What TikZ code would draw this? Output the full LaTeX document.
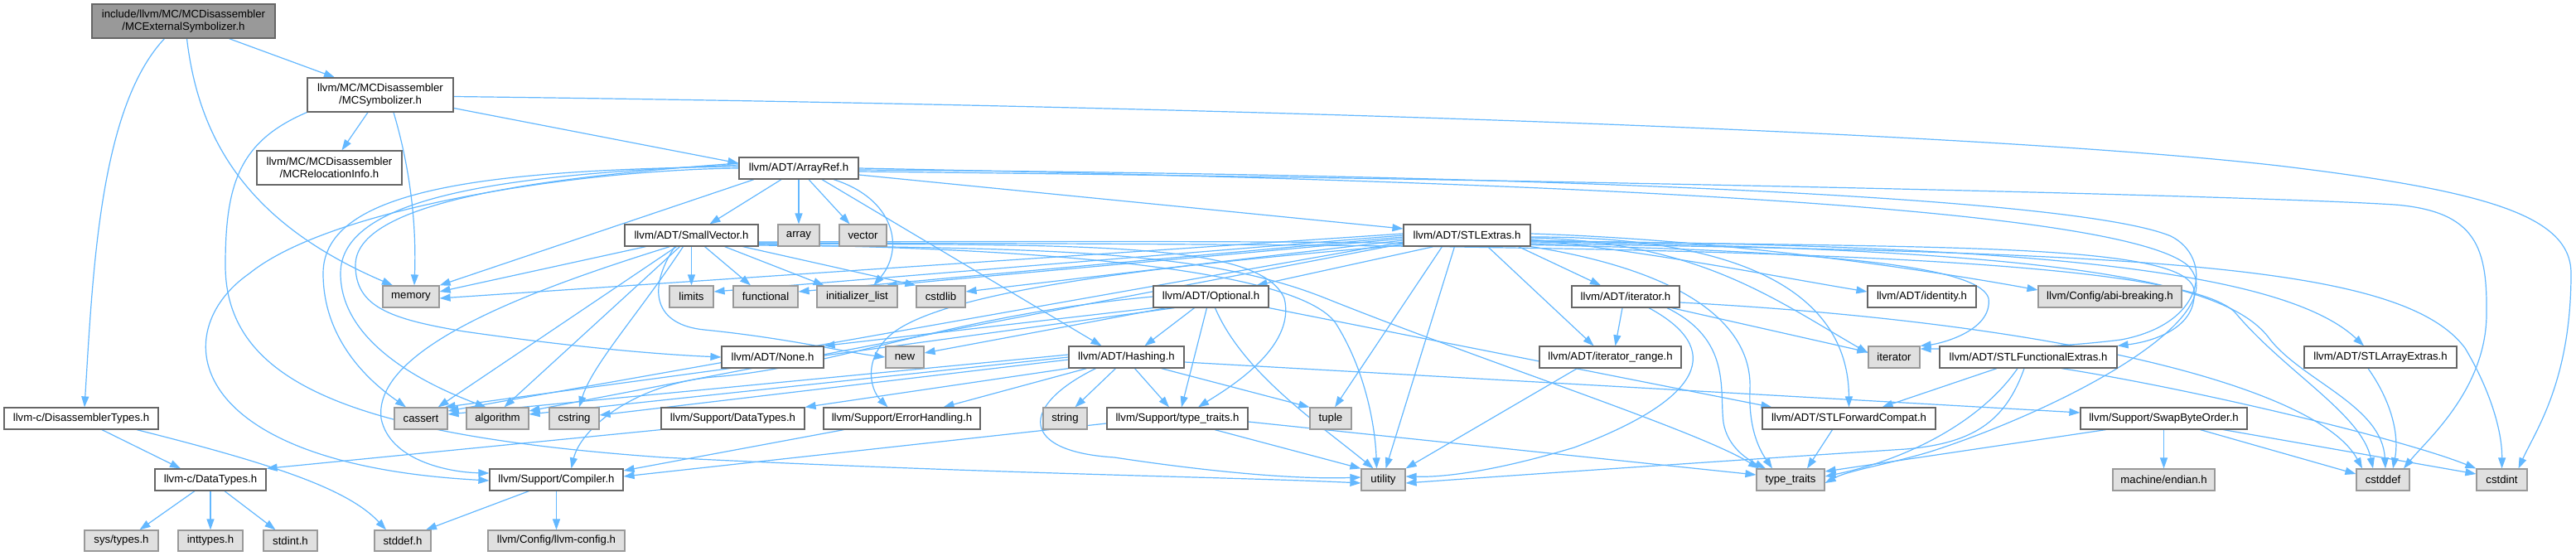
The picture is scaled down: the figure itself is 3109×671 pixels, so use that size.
\documentclass[tikz,border=0pt]{standalone}
\usepackage{fontspec}
\setmainfont{Liberation Sans}
\usetikzlibrary{arrows.meta}
\definecolor{edgec}{HTML}{63B8FF}
\definecolor{bordc}{HTML}{666666}
\definecolor{extbord}{HTML}{999999}
\definecolor{extfill}{HTML}{E0E0E0}
\definecolor{rootfill}{HTML}{999999}
\newcommand\dxfont{\fontsize{13.2}{15}\selectfont}
\pgfdeclarelayer{bglayer}
\pgfsetlayers{bglayer,main}
\begin{document}
\begin{tikzpicture}[x=1pt,y=-1pt,
  hbox/.style={draw=bordc,fill=white,line width=1.2pt,minimum height=26pt,inner xsep=2pt,inner ysep=0pt,font=\dxfont,align=center},
  hbox2/.style={hbox,minimum height=41pt},
  xbox/.style={hbox,draw=extbord,fill=extfill},
  rbox/.style={hbox2,fill=rootfill},
  dep/.style={draw=edgec,line width=1.2pt,-{Triangle[length=13pt,width=9pt]}}]
\useasboundingbox (0,0) rectangle (3109,671);
% nodes
\node[rbox, minimum width=221pt] (root) at (221.5,25.5) {include/llvm/MC/MCDisassembler\\/MCExternalSymbolizer.h};
\node[hbox2, minimum width=176pt] (mcsym) at (459,114.5) {llvm/MC/MCDisassembler\\/MCSymbolizer.h};
\node[hbox2, minimum width=175pt] (mcreloc) at (397.5,202.5) {llvm/MC/MCDisassembler\\/MCRelocationInfo.h};
\node[hbox, minimum width=144pt] (arrayref) at (964,203) {llvm/ADT/ArrayRef.h};
\node[hbox, minimum width=161pt] (smallvec) at (834.5,284) {llvm/ADT/SmallVector.h};
\node[xbox, minimum width=50pt] (array) at (964,284) {array};
\node[xbox, minimum width=57pt] (vector) at (1041.5,284) {vector};
\node[hbox, minimum width=153pt] (stlextras) at (1770.5,284) {llvm/ADT/STLExtras.h};
\node[xbox, minimum width=68pt] (memory) at (496,358) {memory};
\node[xbox, minimum width=53pt] (limits) at (834.5,358) {limits};
\node[xbox, minimum width=78pt] (functional) at (924,358) {functional};
\node[xbox, minimum width=97pt] (initlist) at (1034.5,358) {initializer\_list};
\node[xbox, minimum width=59pt] (cstdlib) at (1135.5,358) {cstdlib};
\node[hbox, minimum width=139pt] (optional) at (1461.5,358) {llvm/ADT/Optional.h};
\node[hbox, minimum width=130pt] (iteratorh) at (1962,358) {llvm/ADT/iterator.h};
\node[hbox, minimum width=131pt] (identity) at (2319.5,358) {llvm/ADT/identity.h};
\node[xbox, minimum width=173pt] (abibreak) at (2546.5,358) {llvm/Config/abi-breaking.h};
\node[hbox, minimum width=123pt] (noneh) at (932.5,431) {llvm/ADT/None.h};
\node[xbox, minimum width=46pt] (newh) at (1092,431) {new};
\node[hbox, minimum width=139pt] (hashing) at (1359.5,431) {llvm/ADT/Hashing.h};
\node[hbox, minimum width=171pt] (iterrange) at (1943.5,431) {llvm/ADT/iterator\_range.h};
\node[xbox, minimum width=62pt] (iterator) at (2286,431) {iterator};
\node[hbox, minimum width=214pt] (stlfunc) at (2448,431) {llvm/ADT/STLFunctionalExtras.h};
\node[hbox, minimum width=184pt] (stlarray) at (2873,431) {llvm/ADT/STLArrayExtras.h};
\node[hbox, minimum width=186pt] (disasm) at (98,505) {llvm-c/DisassemblerTypes.h};
\node[xbox, minimum width=64pt] (cassert) at (508,505) {cassert};
\node[xbox, minimum width=75pt] (algorithm) at (600.5,505) {algorithm};
\node[xbox, minimum width=60pt] (cstring) at (693,505) {cstring};
\node[hbox, minimum width=173pt] (suppdt) at (884.5,505) {llvm/Support/DataTypes.h};
\node[hbox, minimum width=189pt] (errh) at (1088.5,505) {llvm/Support/ErrorHandling.h};
\node[xbox, minimum width=53pt] (stringh) at (1285.5,505) {string};
\node[hbox, minimum width=170pt] (ttraitsh) at (1421,505) {llvm/Support/type\_traits.h};
\node[xbox, minimum width=50pt] (tuple) at (1606,505) {tuple};
\node[hbox, minimum width=209pt] (stlfwd) at (2231.5,505) {llvm/ADT/STLForwardCompat.h};
\node[hbox, minimum width=201pt] (swapbyte) at (2611.5,505) {llvm/Support/SwapByteOrder.h};
\node[hbox, minimum width=134pt] (cdt) at (254,579) {llvm-c/DataTypes.h};
\node[hbox, minimum width=161pt] (compiler) at (671.5,579) {llvm/Support/Compiler.h};
\node[xbox, minimum width=53pt] (utility) at (1669.5,579) {utility};
\node[xbox, minimum width=82pt] (ttraits) at (2161,579) {type\_traits};
\node[xbox, minimum width=123pt] (endian) at (2611.5,579) {machine/endian.h};
\node[xbox, minimum width=64pt] (cstddef) at (2876,579) {cstddef};
\node[xbox, minimum width=61pt] (cstdint) at (3019.5,579) {cstdint};
\node[xbox, minimum width=89pt, minimum height=25pt] (systypes) at (146.5,652.5) {sys/types.h};
\node[xbox, minimum width=78pt, minimum height=25pt] (inttypes) at (254,652.5) {inttypes.h};
\node[xbox, minimum width=65pt, minimum height=25pt] (stdint) at (350.5,652.5) {stdint.h};
\node[xbox, minimum width=68pt, minimum height=25pt] (stddef) at (486,652.5) {stddef.h};
\node[xbox, minimum width=165pt, minimum height=25pt] (llvmconfig) at (671.5,652.5) {llvm/Config/llvm-config.h};
\begin{pgfonlayer}{bglayer}
\fill[white] (0,0) rectangle (3109,671);
% root
\draw[dep] ([xshift=-23pt]root.south) .. controls (120,130) and (112,330) .. ([xshift=4pt]disasm.north);
\draw[dep] ([xshift=4pt]root.south) .. controls (240,170) and (300,270) .. ([xshift=-22pt]memory.north);
\draw[dep] ([xshift=55pt]root.south) -- ([xshift=-55pt]mcsym.north);
% mcsym
\draw[dep] ([xshift=-15pt]mcsym.south) -- ([xshift=15pt]mcreloc.north);
\draw[dep] ([yshift=-16pt]mcsym.east) -- ([yshift=6pt]arrayref.west);
\draw[dep] ([yshift=-2pt]mcsym.east) .. controls (1500,128) and (2400,160) .. (2750,200) .. controls (3000,230) and (3103,260) .. (3103,330) .. controls (3103,460) and (3060,520) .. ([xshift=20pt]cstdint.north);
\draw[dep] ([xshift=16pt]mcsym.south) .. controls (500,220) and (502,290) .. ([xshift=4pt]memory.north);
\draw[dep] (mcsym.south west) .. controls (290,170) and (272,220) .. (272,320) .. controls (272,460) and (420,525) .. (800,552) .. controls (1200,572) and (1500,576) .. ([yshift=-4pt]utility.west);
% disasm, cdt, compiler
\draw[dep] ([xshift=25pt]disasm.south) -- ([xshift=-36pt]cdt.north);
\draw[dep] ([xshift=67pt]disasm.south) .. controls (330,560) and (420,590) .. ([xshift=-20pt]stddef.north);
\draw[dep] ([xshift=-19pt]cdt.south) -- ([xshift=22pt]systypes.north);
\draw[dep] (cdt.south) -- (inttypes.north);
\draw[dep] ([xshift=17pt]cdt.south) -- ([xshift=-18pt]stdint.north);
\draw[dep] ([xshift=-33pt]compiler.south) -- ([xshift=28pt]stddef.north);
\draw[dep] (compiler.south) -- (llvmconfig.north);
\draw[dep] (suppdt.south west) -- (cdt.north east);
\draw[dep] ([xshift=-70pt]errh.south) -- ([yshift=11pt]compiler.east);
% type_traits.h
\draw[dep] ([yshift=-6pt]ttraitsh.west) -- ([yshift=4pt]compiler.east);
\draw[dep] ([xshift=45pt]ttraitsh.south) -- (utility.north west);
\draw[dep] ([yshift=-4pt]ttraitsh.east) -- ([yshift=6pt]ttraits.west);
% hashing
\draw[dep] ([xshift=-13pt]hashing.south) -- ([xshift=12pt]stringh.north);
\draw[dep] ([xshift=10pt]hashing.south) -- ([xshift=-10pt]ttraitsh.north);
\draw[dep] ([xshift=42pt]hashing.south) -- (tuple.north west);
\draw[dep] ([yshift=-6pt]hashing.east) -- ([yshift=7pt]swapbyte.west);
\draw[dep] ([xshift=-48pt]hashing.south) -- ([xshift=50pt]errh.north);
\draw[dep] (hashing.south west) -- (suppdt.north east);
\draw[dep] ([yshift=3pt]hashing.west) -- ([yshift=5pt]cassert.east);
\draw[dep] (hashing.west) -- ([yshift=5pt]algorithm.east);
\draw[dep] ([yshift=-3pt]hashing.west) -- ([yshift=4pt]cstring.east);
\draw[dep] ([xshift=-37pt]hashing.south) .. controls (1230,490) and (1230,545) .. (1345,552) .. controls (1450,568) and (1560,579) .. ([yshift=3pt]utility.west);
% optional
\draw[dep] ([xshift=-20pt]optional.south) -- ([xshift=22pt]hashing.north);
\draw[dep] (optional.south west) -- (noneh.north east);
\draw[dep] ([xshift=16pt]optional.south west) -- ([yshift=5pt]newh.east);
\draw[dep] ([xshift=26pt]optional.south west) -- ([xshift=-4pt]cassert.north east);
\draw[dep] (optional.west) .. controls (1150,380) and (1000,445) .. (860,455) .. controls (760,465) and (700,520) .. ([xshift=18pt]compiler.north);
\draw[dep] ([xshift=-5pt]optional.south) -- ([xshift=5pt]ttraitsh.north);
\draw[dep] (optional.south east) -- ([xshift=12pt]stlfwd.north west);
\draw[dep] ([xshift=5pt]optional.south) .. controls (1500,450) and (1590,510) .. ([xshift=-12pt]utility.north);
% smallvector
\draw[dep] ([xshift=-55pt]smallvec.south) -- ([yshift=6pt]memory.east);
\draw[dep] ([xshift=-18pt]smallvec.south) -- ([xshift=-12pt]cassert.north east);
\draw[dep] ([xshift=-14pt]smallvec.south) -- ([xshift=8pt]algorithm.north);
\draw[dep] ([xshift=-10pt]smallvec.south) .. controls (770,380) and (715,440) .. ([xshift=6pt]cstring.north);
\draw[dep] (smallvec.south) -- (limits.north);
\draw[dep] ([xshift=16pt]smallvec.south) -- ([xshift=-18pt]functional.north);
\draw[dep] ([xshift=40pt]smallvec.south) -- ([xshift=-40pt]initlist.north);
\draw[dep] ([xshift=62pt]smallvec.south) -- (cstdlib.north west);
\draw[dep] ([xshift=-20pt]smallvec.south) .. controls (780,350) and (790,392) .. (850,398) .. controls (950,408) and (1020,425) .. (newh.west);
\draw[dep] ([xshift=-26pt]smallvec.south) .. controls (640,350) and (450,420) .. (460,505) .. controls (470,555) and (540,570) .. ([yshift=8pt]compiler.west);
\draw[dep] ([yshift=-10pt]smallvec.east) .. controls (1300,296) and (1520,290) .. (1550,360) .. controls (1565,420) and (1480,470) .. ([xshift=25pt]ttraitsh.north);
\draw[dep] ([yshift=-11pt]smallvec.east) .. controls (1300,300) and (1570,330) .. (1612,390) .. controls (1650,450) and (1660,520) .. ([xshift=-8pt]utility.north);
\draw[dep] ([yshift=-12pt]smallvec.east) .. controls (1250,300) and (1450,300) .. (1600,360) .. controls (1800,440) and (2050,520) .. ([xshift=-38pt]ttraits.north);
\draw[dep] ([yshift=-8pt]smallvec.east) .. controls (1800,290) and (2380,290) .. (2400,360) .. controls (2405,400) and (2340,415) .. (iterator.north east);
\draw[dep] ([yshift=-9pt]smallvec.east) .. controls (1900,295) and (2640,300) .. (2700,380) .. controls (2760,450) and (2850,500) .. ([xshift=-12pt]cstddef.north);
% arrayref
\draw[dep] ([xshift=-21pt]arrayref.south) -- ([xshift=22pt]smallvec.north);
\draw[dep] (arrayref.south) -- (array.north);
\draw[dep] ([xshift=12pt]arrayref.south) -- ([xshift=-16pt]vector.north);
\draw[dep] ([yshift=-8pt]arrayref.east) -- ([yshift=8pt]stlextras.west);
\draw[dep] ([xshift=28pt]arrayref.south) -- ([xshift=-30pt]hashing.north);
\draw[dep] ([xshift=42pt]arrayref.south) .. controls (1080,240) and (1092,300) .. ([xshift=20pt]initlist.north);
\draw[dep] ([xshift=-54pt]arrayref.south) -- (memory.north east);
\draw[dep] ([yshift=2pt]arrayref.west) .. controls (600,205) and (390,225) .. (390,330) .. controls (390,420) and (460,470) .. ([xshift=-18pt]cassert.north);
\draw[dep] ([yshift=4pt]arrayref.west) .. controls (620,210) and (411,235) .. (411,330) .. controls (411,420) and (530,470) .. ([xshift=-14pt]algorithm.north);
\draw[dep] ([yshift=6pt]arrayref.west) .. controls (640,215) and (429,245) .. (429,320) .. controls (429,370) and (470,385) .. (560,400) .. controls (700,420) and (800,428) .. (noneh.west);
\draw[dep] (arrayref.west) .. controls (700,205) and (400,250) .. (301,330) .. controls (200,400) and (220,560) .. ([yshift=-1pt]compiler.west);
\draw[dep] ([yshift=-4pt]arrayref.east) .. controls (1800,215) and (2700,235) .. (2890,247) .. controls (2990,255) and (3002,300) .. (3001,380) .. controls (3000,470) and (2930,530) .. ([xshift=25pt]cstddef.north);
\draw[dep] ([yshift=-2pt]arrayref.east) .. controls (1800,210) and (2500,235) .. (2620,285) .. controls (2670,310) and (2665,390) .. (2560,410) .. controls (2480,420) and (2400,421) .. ([yshift=10pt]iterator.east);
\draw[dep] (arrayref.east) .. controls (1800,218) and (2550,245) .. (2640,320) .. controls (2700,380) and (2500,490) .. (2330,545) .. controls (2280,560) and (2230,568) .. ([yshift=-4pt]ttraits.east);
% stlextras
\draw[dep] ([yshift=2pt]stlextras.west) -- ([yshift=-2pt]memory.east);
\draw[dep] (stlextras.west) -- ([yshift=6pt]limits.east);
\draw[dep] ([yshift=-2pt]stlextras.west) -- ([yshift=6pt]functional.east);
\draw[dep] ([yshift=-4pt]stlextras.west) -- ([xshift=35pt]initlist.north);
\draw[dep] ([yshift=-6pt]stlextras.west) -- ([yshift=6pt]cstdlib.east);
\draw[dep] ([yshift=-8pt]stlextras.west) -- ([yshift=9pt]cassert.east);
\draw[dep] ([yshift=-10pt]stlextras.west) -- ([yshift=9pt]algorithm.east);
\draw[dep] ([yshift=-12pt]stlextras.west) .. controls (1400,320) and (1150,350) .. (1080,400) .. controls (1040,430) and (1050,470) .. ([xshift=-17pt]errh.north);
\draw[dep] ([xshift=-40pt]stlextras.south) -- ([xshift=55pt]optional.north);
\draw[dep] ([xshift=-30pt]stlextras.south) -- ([xshift=5pt]tuple.north);
\draw[dep] ([xshift=-15pt]stlextras.south) -- ([xshift=3pt]utility.north);
\draw[dep] ([xshift=25pt]stlextras.south) -- ([xshift=-20pt]iterrange.north);
\draw[dep] ([xshift=-15pt]stlextras.south east) -- ([xshift=-30pt]iteratorh.north);
\draw[dep] (stlextras.south east) .. controls (2050,330) and (2115,400) .. (2112,470) .. controls (2110,520) and (2125,545) .. ([xshift=-22pt]ttraits.north);
\draw[dep] ([yshift=-2pt]stlextras.east) .. controls (2150,285) and (2231,380) .. (stlfwd.north);
\draw[dep] ([yshift=-5pt]stlextras.east) .. controls (2000,305) and (2150,335) .. ([yshift=6pt]identity.west);
\draw[dep] ([yshift=2pt]stlextras.east) .. controls (2100,290) and (2350,330) .. ([yshift=8pt]abibreak.west);
\draw[dep] ([yshift=-3pt]stlextras.east) .. controls (2050,292) and (2140,360) .. ([yshift=5pt]iterator.west);
\draw[dep] ([yshift=-6pt]stlextras.east) .. controls (2300,300) and (2640,290) .. (2648,350) .. controls (2652,395) and (2600,412) .. (stlfunc.north east);
\draw[dep] ([yshift=-7pt]stlextras.east) .. controls (2400,295) and (2750,320) .. ([xshift=-20pt]stlarray.north);
\draw[dep] ([yshift=-8pt]stlextras.east) .. controls (2500,300) and (2690,340) .. (2740,410) .. controls (2780,460) and (2875,490) .. ([xshift=3pt]cstddef.north);
\draw[dep] ([yshift=-10pt]stlextras.east) .. controls (2600,305) and (2900,320) .. (2975,420) .. controls (3005,470) and (3020,520) .. (cstdint.north);
% iterator.h
\draw[dep] ([xshift=-4pt]iteratorh.south) -- ([xshift=6pt]iterrange.north);
\draw[dep] ([xshift=28pt]iteratorh.south) .. controls (2080,420) and (2060,480) .. (1900,540) .. controls (1800,570) and (1740,576) .. ([yshift=4pt]utility.east);
\draw[dep] ([xshift=50pt]iteratorh.south) .. controls (2090,410) and (2075,470) .. (2080,510) .. controls (2085,540) and (2110,555) .. ([xshift=-30pt]ttraits.north);
\draw[dep] ([xshift=-10pt]iteratorh.south east) -- ([yshift=6pt]iterator.west);
\draw[dep] ([yshift=-7pt]iteratorh.east) .. controls (2500,390) and (2800,470) .. ([xshift=-25pt]cstddef.north);
% others
\draw[dep] ([xshift=-40pt]iterrange.south) -- (utility.north east);
\draw[dep] ([xshift=-38pt]stlfunc.south) -- ([xshift=40pt]stlfwd.north);
\draw[dep] ([xshift=-13pt]stlfunc.south) .. controls (2390,510) and (2300,555) .. ([yshift=4pt]ttraits.east);
\draw[dep] ([xshift=-5pt]stlfunc.south) .. controls (2420,510) and (2380,535) .. (2300,542) .. controls (2100,555) and (1850,572) .. ([yshift=-4pt]utility.east);
\draw[dep] ([xshift=40pt]stlfunc.south) .. controls (2650,470) and (2900,530) .. (cstdint.north west);
\draw[dep] ([xshift=-15pt]stlarray.south) .. controls (2890,490) and (2895,530) .. ([xshift=12pt]cstddef.north);
\draw[dep] ([xshift=-20pt]stlfwd.south) -- ([xshift=20pt]ttraits.north);
\draw[dep] (swapbyte.south) -- (endian.north);
\draw[dep] ([xshift=44pt]swapbyte.south) -- ([yshift=7pt]cstddef.west);
\draw[dep] ([xshift=72pt]swapbyte.south) -- ([yshift=7pt]cstdint.west);
\draw[dep] ([xshift=-70pt]swapbyte.south) -- ([yshift=10pt]ttraits.east);
\end{pgfonlayer}
\end{tikzpicture}
\end{document}
